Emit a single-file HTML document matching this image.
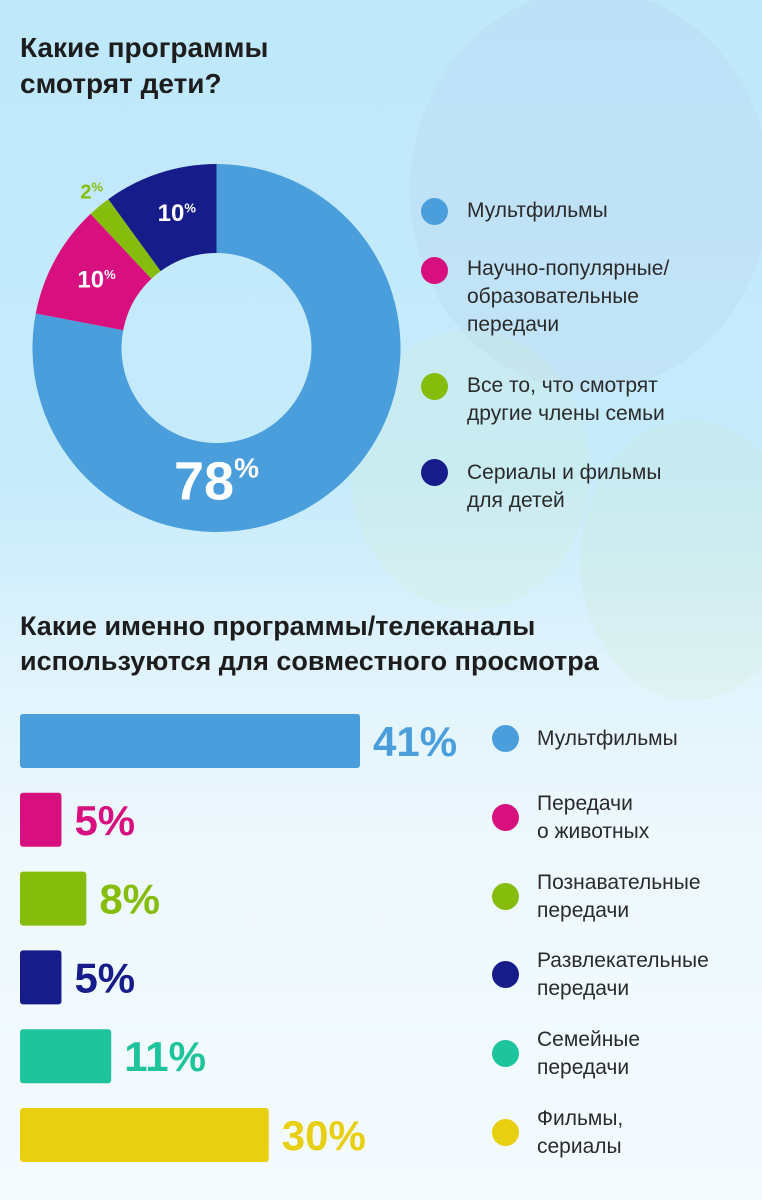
<!DOCTYPE html>
<html><head><meta charset="utf-8"><style>
html,body{margin:0;padding:0}
body{width:762px;height:1200px;overflow:hidden;position:relative;font-family:"Liberation Sans","DejaVu Sans",sans-serif;background:linear-gradient(180deg,#bfe8fb 0%,#c6ebfb 40%,#dff3fc 55%,#eef8fd 70%,#f4fbfe 100%)}
.t{position:absolute;color:#1d1d1d;font-weight:bold;margin:0}
.lg{position:absolute;font-size:21px;line-height:28px;color:#2a2a2a}
.dot{position:absolute;width:27px;height:27px;border-radius:50%}
</style></head><body>
<svg width="762" height="1200" style="position:absolute;left:0;top:0">
<ellipse cx="590" cy="190" rx="180" ry="200" fill="#b9c8ea" opacity="0.2"/>
<ellipse cx="470" cy="470" rx="120" ry="140" fill="#d7efcf" opacity="0.2"/>
<ellipse cx="690" cy="560" rx="110" ry="140" fill="#cfe8c2" opacity="0.18"/>
</svg>
<h1 class="t" style="left:20px;top:30px;font-size:28px;line-height:36px">Какие программы<br>смотрят дети?</h1>
<svg id="donut" width="420" height="560" style="position:absolute;left:0;top:0"></svg>
<div>
<div class="dot" style="left:421px;top:198px;background:#4a9edb"></div>
<div class="lg" style="left:467px;top:197px">Мультфильмы</div>
<div class="dot" style="left:421px;top:257px;background:#d80f7e"></div>
<div class="lg" style="left:467px;top:255px">Научно-популярные/<br>образовательные<br>передачи</div>
<div class="dot" style="left:421px;top:373px;background:#86bd0d"></div>
<div class="lg" style="left:467px;top:372px">Все то, что смотрят<br>другие члены семьи</div>
<div class="dot" style="left:421px;top:459px;background:#161d8b"></div>
<div class="lg" style="left:467px;top:459px">Сериалы и фильмы<br>для детей</div>
</div>
<h1 class="t" style="left:20px;top:609px;font-size:27px;line-height:35px">Какие именно программы/телеканалы<br>используются для совместного просмотра</h1>
<svg id="bars" width="500" height="1200" style="position:absolute;left:0;top:0"></svg>
<div id="blg"></div>
<script>
const donutCategories=["Мультфильмы","Научно-популярные","Все остальное","Сериалы"];
const donutValues=[78,10,2,10];
const donutColors=["#4a9edb","#d80f7e","#86bd0d","#161d8b"];
const barCategories=["Мультфильмы","Передачи о животных","Познавательные передачи","Развлекательные передачи","Семейные передачи","Фильмы, сериалы"];
const barValues=[41,5,8,5,11,30];
const barColors=["#4a9edb","#d80f7e","#86bd0d","#161d8b","#1ec49b","#e8cf10"];
const barLegend=[["Мультфильмы"],["Передачи","о животных"],["Познавательные","передачи"],["Развлекательные","передачи"],["Семейные","передачи"],["Фильмы,","сериалы"]];
const NS="http://www.w3.org/2000/svg";
const cx=216.5,cy=348,R=184,r=95;
const svg=document.getElementById('donut');
const total=donutValues.reduce((a,b)=>a+b,0);
function pt(a,rad){return [cx+rad*Math.sin(a),cy-rad*Math.cos(a)];}
let acc=0;
donutValues.forEach((v,i)=>{
  const a0=acc/total*2*Math.PI;acc+=v;const a1=acc/total*2*Math.PI;
  const lg=(a1-a0)>Math.PI?1:0;
  const [x0,y0]=pt(a0,R),[x1,y1]=pt(a1,R),[x2,y2]=pt(a1,r),[x3,y3]=pt(a0,r);
  const p=document.createElementNS(NS,'path');
  p.setAttribute('d',`M${x0},${y0}A${R},${R} 0 ${lg} 1 ${x1},${y1}L${x2},${y2}A${r},${r} 0 ${lg} 0 ${x3},${y3}Z`);
  p.setAttribute('fill',donutColors[i]);
  
  
  svg.appendChild(p);
  const big=v/total>0.5;
  const am=big?Math.PI:(a0+a1)/2;
  const small=v<5;
  const [lx,ly]=small?pt(am,R+18):pt(am,big?(R+r)/2-6:(R+r)/2+2);
  const t=document.createElementNS(NS,'text');
  t.setAttribute('x',lx+(big?0:4));t.setAttribute('y',ly);
  t.setAttribute('text-anchor','middle');t.setAttribute('dominant-baseline','central');
  t.setAttribute('font-weight','bold');
  t.setAttribute('font-family','Liberation Sans, sans-serif');
  t.setAttribute('fill',small?donutColors[i]:'#fff');
  t.setAttribute('font-size',big?54:small?20:24);
  
  
  t.innerHTML=v+'<tspan font-size="'+(big?28:13)+'" dy="'+(big?-14:-6)+'">%</tspan>';
  svg.appendChild(t);
});
const bs=document.getElementById('bars');
const x0b=20,scale=340/41,y0b=714,step=78.8,bh=54;
const xs=v=>v*scale;
barValues.forEach((v,i)=>{
  const y=y0b+i*step;
  const rc=document.createElementNS(NS,'rect');
  rc.setAttribute('x',x0b);rc.setAttribute('y',y);rc.setAttribute('width',xs(v));rc.setAttribute('height',bh);
  rc.setAttribute('rx',3);rc.setAttribute('fill',barColors[i]);
  
  
  bs.appendChild(rc);
  const t=document.createElementNS(NS,'text');
  t.setAttribute('x',x0b+xs(v)+13);t.setAttribute('y',y+bh/2+15);
  t.setAttribute('font-size',42);t.setAttribute('font-weight','bold');
  t.setAttribute('font-family','Liberation Sans, sans-serif');
  t.setAttribute('fill',barColors[i]);
  
  
  t.textContent=v+'%';
  bs.appendChild(t);
  const blg=document.getElementById('blg');
  const d=document.createElement('div');d.className='dot';
  d.style.left='492px';d.style.top=(y+bh/2-16)+'px';d.style.background=barColors[i];
  
  
  blg.appendChild(d);
  const l=document.createElement('div');l.className='lg';
  const lines=barLegend[i];
  l.style.left='537px';l.style.top=(y+bh/2-2-lines.length*14)+'px';
  l.innerHTML=lines.join('<br>');
  
  
  blg.appendChild(l);
});
</script>
</body></html>
